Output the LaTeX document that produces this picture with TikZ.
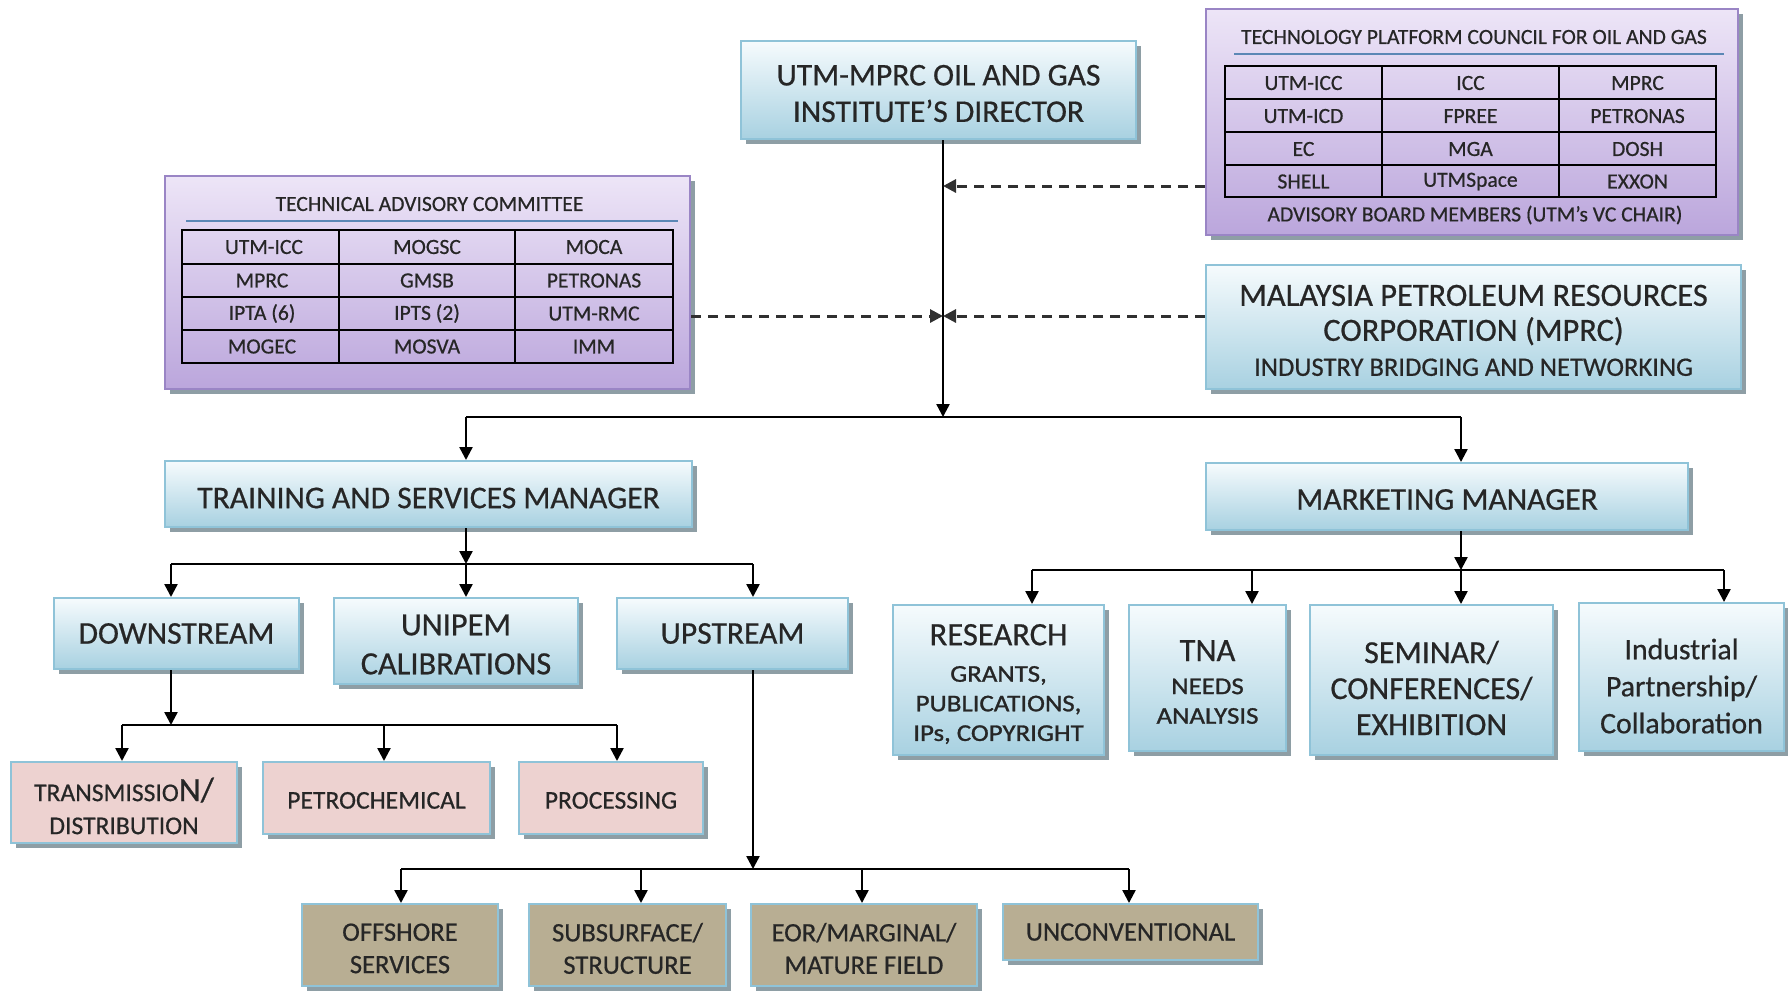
\documentclass[tikz,border=0pt]{standalone}
\usepackage{fontspec}
\setmainfont{Carlito}[FakeBold=0.6]
\newfontfamily\subfont{Carlito}[FakeStretch=1.12,FakeBold=1.2]
\usetikzlibrary{arrows.meta,shadows}
\definecolor{txt}{HTML}{262626}
\definecolor{bluetop}{HTML}{F6FBFD}
\definecolor{bluebot}{HTML}{A8D1E1}
\definecolor{bluebd}{HTML}{8FC3D8}
\definecolor{purtop}{HTML}{EDE5F7}
\definecolor{purbot}{HTML}{BBA6DC}
\definecolor{purbd}{HTML}{9A85C5}
\definecolor{pinkf}{HTML}{EDD2D0}
\definecolor{olivef}{HTML}{B8AE93}
\definecolor{shadowc}{HTML}{8E9EA5}
\definecolor{ruleblue}{HTML}{5B87B5}
\definecolor{dashc}{HTML}{303030}
\newcommand\myfA{\fontsize{15.8}{18.25}\selectfont}
\newcommand\myfB{\subfont\fontsize{12}{14.8}\selectfont}
\newcommand\myfC{\fontsize{12.8}{16.5}\selectfont}
\newcommand\myfG{\fontsize{13.3}{16.2}\selectfont}
\newcommand\myfD{\fontsize{10.8}{13}\selectfont}
\newcommand\myfE{\fontsize{16.2}{17.5}\selectfont}
\newcommand\myfH{\fontsize{13.3}{17.5}\selectfont}
\newcommand\myfF{\fontsize{16.2}{19.5}\selectfont}
\newcommand\myfI{\fontsize{14.9}{18.5}\selectfont}
\newcommand\myfJ{\fontsize{16}{18}\selectfont}
\newcommand\myfR{\normalfont\fontsize{16.3}{14.8}\selectfont}
\tikzset{
  base/.style={rectangle, inner sep=0pt, align=center, text=txt, line width=1pt,
    drop shadow={shadow xshift=2.5pt, shadow yshift=-2.5pt, fill=shadowc, opacity=1}},
  bluebox/.style={base, draw=bluebd, top color=bluetop, bottom color=bluebot, font=\myfA},
  purbox/.style={base, draw=purbd, top color=purtop, bottom color=purbot},
  pinkbox/.style={base, draw=bluebd, fill=pinkf, font=\myfC},
  olivebox/.style={base, draw=bluebd, fill=olivef, font=\myfG},
  lbl/.style={inner sep=0pt, align=center, text=txt, font=\myfA},
  cell/.style={inner sep=0pt, text=txt, font=\myfD},
  tbl/.style={line width=1.2pt, black},
  conn/.style={line width=1.2pt, black},
  arr/.style={conn, -{Triangle[width=6.5pt,length=6.5pt]}},
  dsh/.style={line width=1.5pt, dashc, dash pattern=on 5pt off 3.5pt, -{Triangle[width=6.5pt,length=6.5pt]}}
}
\begin{document}
\begin{tikzpicture}[x=0.5pt,y=-0.5pt]
\useasboundingbox (0,0) rectangle (1788,993);

% ---------- top level ----------
\node[bluebox, minimum width=197.5pt, minimum height=49pt] (dir) at (938.5,90) {};
\node[lbl] (dirt) at ([yshift=-1.75pt]dir.center) {UTM-MPRC OIL AND GAS\\INSTITUTE’S DIRECTOR};

% Technology platform council
\node[purbox, minimum width=266pt, minimum height=113pt] (tpc) at (1472,122) {};
\node[cell] (tpct) at (1474,37) {TECHNOLOGY PLATFORM COUNCIL FOR OIL AND GAS};
\draw[ruleblue, line width=1pt] (1234,54) -- (1724,54);
\draw[tbl] (1225,66) rectangle (1716,197);
\draw[tbl] (1382,66) -- (1382,197) (1559,66) -- (1559,197)
  (1225,99) -- (1716,99) (1225,132) -- (1716,132) (1225,165) -- (1716,165);
\node[cell] (p11) at (1303.5,83) {UTM-ICC};
\node[cell] (p12) at (1470.5,83) {ICC};
\node[cell] (p13) at (1637.5,83) {MPRC};
\node[cell] (p21) at (1303.5,116) {UTM-ICD};
\node[cell] (p22) at (1470.5,116) {FPREE};
\node[cell] (p23) at (1637.5,116) {PETRONAS};
\node[cell] (p31) at (1303.5,149) {EC};
\node[cell] (p32) at (1470.5,149) {MGA};
\node[cell] (p33) at (1637.5,149) {DOSH};
\node[cell] (p41) at (1303.5,181.5) {SHELL};
\node[cell] (p42) at (1470.5,181.5) {UTMSpace};
\node[cell] (p43) at (1637.5,181.5) {EXXON};
\node[cell] (tpcf) at (1475,215) {ADVISORY BOARD MEMBERS (UTM’s VC CHAIR)};

% Technical advisory committee
\node[purbox, minimum width=262.5pt, minimum height=106.5pt] (tac) at (427.5,282.5) {};
\node[cell] (tact) at (429.5,204) {TECHNICAL ADVISORY COMMITTEE};
\draw[ruleblue, line width=1pt] (186,221) -- (678,221);
\draw[tbl] (182,230) rectangle (673,363);
\draw[tbl] (339,230) -- (339,363) (515,230) -- (515,363)
  (182,264) -- (673,264) (182,297) -- (673,297) (182,330) -- (673,330);
\node[cell] (t11) at (264,247) {UTM-ICC};
\node[cell] (t12) at (427,247) {MOGSC};
\node[cell] (t13) at (594,247) {MOCA};
\node[cell] (t21) at (262,280.5) {MPRC};
\node[cell] (t22) at (427,280.5) {GMSB};
\node[cell] (t23) at (594,280.5) {PETRONAS};
\node[cell] (t31) at (262,313.5) {IPTA (6)};
\node[cell] (t32) at (427,313.5) {IPTS (2)};
\node[cell] (t33) at (594,313.5) {UTM-RMC};
\node[cell] (t41) at (262,346.5) {MOGEC};
\node[cell] (t42) at (427,346.5) {MOSVA};
\node[cell] (t43) at (594,346.5) {IMM};

% MPRC
\node[bluebox, minimum width=267.5pt, minimum height=62pt] (mprc) at (1473.5,327) {};
\node[lbl, font=\myfE] (mprct) at ([yshift=-1.7pt]mprc.center)
  {MALAYSIA PETROLEUM RESOURCES\\CORPORATION (MPRC)\\{\myfH INDUSTRY BRIDGING AND NETWORKING}};

% ---------- managers ----------
\node[bluebox, minimum width=263.5pt, minimum height=33pt] (tsm) at (428.5,494) {};
\node[lbl] (tsmt) at ([yshift=-2pt]tsm.center) {TRAINING AND SERVICES MANAGER};
\node[bluebox, minimum width=241pt, minimum height=33.5pt] (mm) at (1447,496.5) {};
\node[lbl] (mmt) at ([yshift=-1.5pt]mm.center) {MARKETING MANAGER};

% ---------- training branch ----------
\node[bluebox, minimum width=122.5pt, minimum height=35.5pt] (down) at (176.5,633.5) {DOWNSTREAM};
\node[bluebox, minimum width=122pt, minimum height=43pt] (unipem) at (456,641) {};
\node[lbl, font=\myfF] (unipemt) at ([yshift=-1.75pt]unipem.center) {UNIPEM\\CALIBRATIONS};
\node[bluebox, minimum width=115.5pt, minimum height=35.5pt] (up) at (732.5,633.5) {UPSTREAM};

\node[pinkbox, minimum width=113pt, minimum height=40.5pt] (trans) at (124,802.5) {};
\node[lbl, font=\myfC] (transt) at ([yshift=-1.7pt]trans.center)
  {TRANSMISSIO{\fontsize{17}{16.5}\selectfont N/}\\DISTRIBUTION};
\node[pinkbox, minimum width=113.5pt, minimum height=36pt] (petro) at (376.5,798) {};
\node[lbl, font=\myfC] (petrot) at ([yshift=-1.2pt]petro.center) {PETROCHEMICAL};
\node[pinkbox, minimum width=92pt, minimum height=36pt] (proc) at (611,798) {};
\node[lbl, font=\myfC] (proct) at ([yshift=-1.2pt]proc.center) {PROCESSING};

\node[olivebox, minimum width=98pt, minimum height=41pt] (off) at (400,945) {};
\node[lbl, font=\myfG] (offt) at ([yshift=-1.7pt]off.center) {OFFSHORE\\SERVICES};
\node[olivebox, minimum width=98.5pt, minimum height=41pt] (sub) at (627.5,945) {};
\node[lbl, font=\myfG] (subt) at ([yshift=-1.7pt]sub.center) {SUBSURFACE/\\STRUCTURE};
\node[olivebox, minimum width=113pt, minimum height=41pt] (eor) at (864,945) {};
\node[lbl, font=\myfG] (eort) at ([yshift=-1.7pt]eor.center) {EOR/MARGINAL/\\MATURE FIELD};
\node[olivebox, minimum width=127.5pt, minimum height=28pt] (unc) at (1130.5,932) {UNCONVENTIONAL};

% ---------- marketing branch ----------
\node[bluebox, minimum width=105.5pt, minimum height=75pt] (res) at (998.5,680) {};
\node[lbl, font=\myfB] (rest) at ([yshift=-2pt]res.center)
  {{\myfR RESEARCH}\\[3.45pt]GRANTS,\\PUBLICATIONS,\\IPs, COPYRIGHT};
\node[bluebox, minimum width=78.5pt, minimum height=73pt] (tna) at (1207.5,678) {};
\node[lbl, font=\myfB] (tnat) at ([yshift=-2pt]tna.center)
  {{\myfR TNA}\\[1.7pt]NEEDS\\ANALYSIS};
\node[bluebox, minimum width=121.5pt, minimum height=75pt] (sem) at (1431.5,680) {};
\node[lbl, font=\myfJ] (semt) at ([yshift=-4pt]sem.center) {SEMINAR/\\CONFERENCES/\\EXHIBITION};
\node[bluebox, minimum width=102.5pt, minimum height=74pt] (ind) at (1681.5,677) {};
\node[lbl, font=\myfI] (indt) at ([yshift=-4.5pt]ind.center) {Industrial\\Partnership/\\Collaboration};

% ---------- connectors ----------
\coordinate (j0) at (943,417);
\coordinate (dA) at (943,186);
\coordinate (dB) at (943,316);
\draw[arr] (dir.south -| j0) -- (j0);
\draw[dsh] (tpc.west |- dA) -- (dA);
\draw[dsh] (tac.east |- dB) -- (dB);
\draw[dsh] (mprc.west |- dB) -- (dB);
\coordinate (a1) at (466,417);
\coordinate (a2) at (1461,417);
\draw[conn] (a1) -- (a2);
\draw[arr] (a1) -- (a1 |- tsm.north);
\draw[arr] (a2) -- (a2 |- mm.north);

% training manager branch
\coordinate (j1) at (466,564);
\coordinate (b1) at (171,564);
\coordinate (b3) at (753,564);
\draw[arr] (tsm.south -| j1) -- (j1);
\draw[conn] (b1) -- (b3);
\draw[arr] (b1) -- (b1 |- down.north);
\draw[arr] (j1) -- (j1 |- unipem.north);
\draw[arr] (b3) -- (b3 |- up.north);

% downstream branch
\coordinate (j2) at (171,725);
\coordinate (c1) at (122,725);
\coordinate (c2) at (384,725);
\coordinate (c3) at (617,725);
\draw[arr] (down.south -| j2) -- (j2);
\draw[conn] (c1) -- (c3);
\draw[arr] (c1) -- (c1 |- trans.north);
\draw[arr] (c2) -- (c2 |- petro.north);
\draw[arr] (c3) -- (c3 |- proc.north);

% upstream branch
\coordinate (j3) at (753,869);
\coordinate (d1) at (401,869);
\coordinate (d2) at (641,869);
\coordinate (d3) at (862,869);
\coordinate (d4) at (1129,869);
\draw[arr] (up.south -| j3) -- (j3);
\draw[conn] (d1) -- (d4);
\draw[arr] (d1) -- (d1 |- off.north);
\draw[arr] (d2) -- (d2 |- sub.north);
\draw[arr] (d3) -- (d3 |- eor.north);
\draw[arr] (d4) -- (d4 |- unc.north);

% marketing branch
\coordinate (j4) at (1461,570);
\coordinate (e1) at (1032,570);
\coordinate (e2) at (1252,570);
\coordinate (e4) at (1724,570);
\draw[arr] (mm.south -| j4) -- (j4);
\draw[conn] (e1) -- (e4);
\draw[arr] (e1) -- (e1 |- res.north);
\draw[arr] (e2) -- (e2 |- tna.north);
\draw[arr] (j4) -- (j4 |- sem.north);
\draw[arr] (e4) -- (e4 |- ind.north);
\end{tikzpicture}
\end{document}
